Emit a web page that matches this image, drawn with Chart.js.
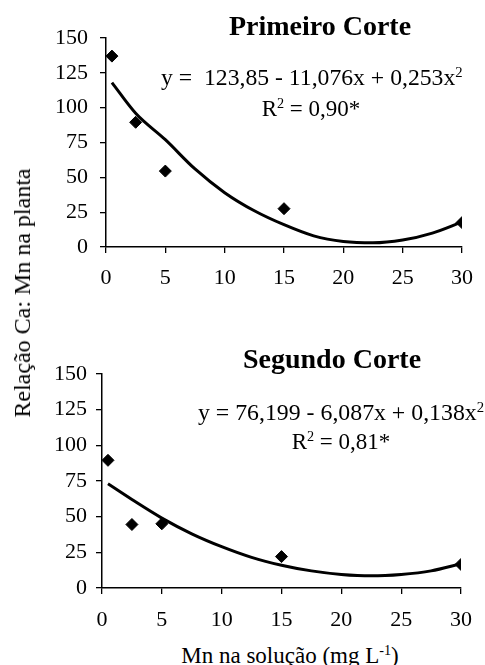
<!DOCTYPE html>
<html>
<head>
<meta charset="utf-8">
<script src="https://cdn.jsdelivr.net/npm/chart.js@4"></script>
<style>
  html, body { margin: 0; padding: 0; background: #fff; }
  body { width: 485px; height: 665px; position: relative; overflow: hidden; font-family: "Liberation Serif", "Times New Roman", serif; color: #000; }
  canvas { position: absolute; left: 0; }
  .t { position: absolute; white-space: pre; line-height: 1; transform: translate(-50%, -50%); }
  .l { position: absolute; white-space: pre; line-height: 1; transform: translateY(-50%); }
  sup { font-size: 62%; vertical-align: 0; position: relative; top: -0.55em; }
</style>
</head>
<body>
<canvas id="c1" width="485" height="300" style="top:0px"></canvas>
<canvas id="c2" width="485" height="310" style="top:330px"></canvas>

<div class="t" style="left:320px;top:26px;font-size:28px;font-weight:bold;">Primeiro Corte</div>
<div class="l" style="left:161px;top:78px;font-size:23.7px;">y =  123,85 - 11,076x + 0,253x<sup>2</sup></div>
<div class="t" style="left:311px;top:108px;font-size:23px;">R<sup>2</sup> = 0,90*</div>

<div class="t" style="left:332px;top:359px;font-size:28px;font-weight:bold;">Segundo Corte</div>
<div class="l" style="left:198px;top:413px;font-size:23.8px;">y = 76,199 - 6,087x + 0,138x<sup>2</sup></div>
<div class="t" style="left:341px;top:441px;font-size:23px;">R<sup>2</sup> = 0,81*</div>

<div class="t" style="left:290px;top:655px;font-size:23px;">Mn na solução (mg L<sup>-1</sup>)</div>
<div class="t" style="left:22px;top:293px;font-size:24px;transform:translate(-50%,-50%) rotate(-90deg);">Relação Ca: Mn na planta</div>

<script>
// ---- data ----
const xObs = [0.5, 2.5, 5, 15, 30];
const corte1Obs = [137, 89.5, 54.5, 27.5, 17.5];
const corte2Obs = [89.5, 44.5, 45, 22, 16.5];

const xFit = [0.5, 2.5, 5, 7.5, 10, 12.5, 15, 17.5, 20, 22.5, 25, 27.5, 30];
const corte1Fit = [118, 96, 77, 56, 39, 26, 16, 8, 4, 3, 5, 10, 18];
const corte2Fit = [73, 62, 49, 38, 29, 21.5, 16, 12, 9.5, 8.5, 9.5, 12, 17];

const xTicks = [0, 5, 10, 15, 20, 25, 30];
const yTicks = [0, 25, 50, 75, 100, 125, 150];

Chart.defaults.font.family = '"Liberation Serif", "Times New Roman", serif';
Chart.defaults.font.size = 22;
Chart.defaults.color = '#000';

function pts(xs, ys) { return xs.map((x, i) => ({ x: x, y: ys[i] })); }

function makeChart(id, obs, fit, cfg) {
  return new Chart(document.getElementById(id), {
    type: 'scatter',
    data: {
      datasets: [
        {
          type: 'line',
          data: pts(xFit, fit),
          borderColor: '#000',
          borderWidth: 3,
          pointRadius: 0,
          tension: 0.4,
          cubicInterpolationMode: 'monotone',
          fill: false,
          order: 2
        },
        {
          data: pts(xObs, obs),
          pointStyle: 'rectRot',
          pointRadius: 6,
          backgroundColor: '#000',
          borderColor: '#000',
          borderWidth: 1,
          order: 1
        }
      ]
    },
    options: {
      responsive: false,
      animation: false,
      layout: { padding: { top: cfg.top, right: cfg.right, left: 0, bottom: 0 } },
      plugins: { legend: { display: false }, tooltip: { enabled: false }, title: { display: false } },
      scales: {
        x: {
          type: 'linear',
          min: 0, max: 30,
          afterBuildTicks: s => { s.ticks = xTicks.map(v => ({ value: v })); },
          afterFit: s => { s.height = cfg.xh; },
          ticks: { padding: cfg.xpad, maxRotation: 0, font: { size: 22 } },
          grid: { drawOnChartArea: false, drawTicks: true, tickLength: 6, color: '#000', lineWidth: 1.3 },
          border: { display: true, color: '#000', width: 1.5 }
        },
        y: {
          type: 'linear',
          min: 0, max: 150,
          afterBuildTicks: s => { s.ticks = yTicks.map(v => ({ value: v })); },
          afterFit: s => { s.width = cfg.yw; },
          ticks: { padding: cfg.ypad, font: { size: 22 } },
          grid: { drawOnChartArea: false, drawTicks: true, tickLength: 6, color: '#000', lineWidth: 1.3 },
          border: { display: true, color: '#000', width: 1.5 }
        }
      }
    }
  });
}

makeChart('c1', corte1Obs, corte1Fit, { top: 38, right: 15, xh: 53, yw: 106, xpad: 12, ypad: 12 });
makeChart('c2', corte2Obs, corte2Fit, { top: 44, right: 11, xh: 52, yw: 102, xpad: 13, ypad: 9 });
</script>
</body>
</html>
